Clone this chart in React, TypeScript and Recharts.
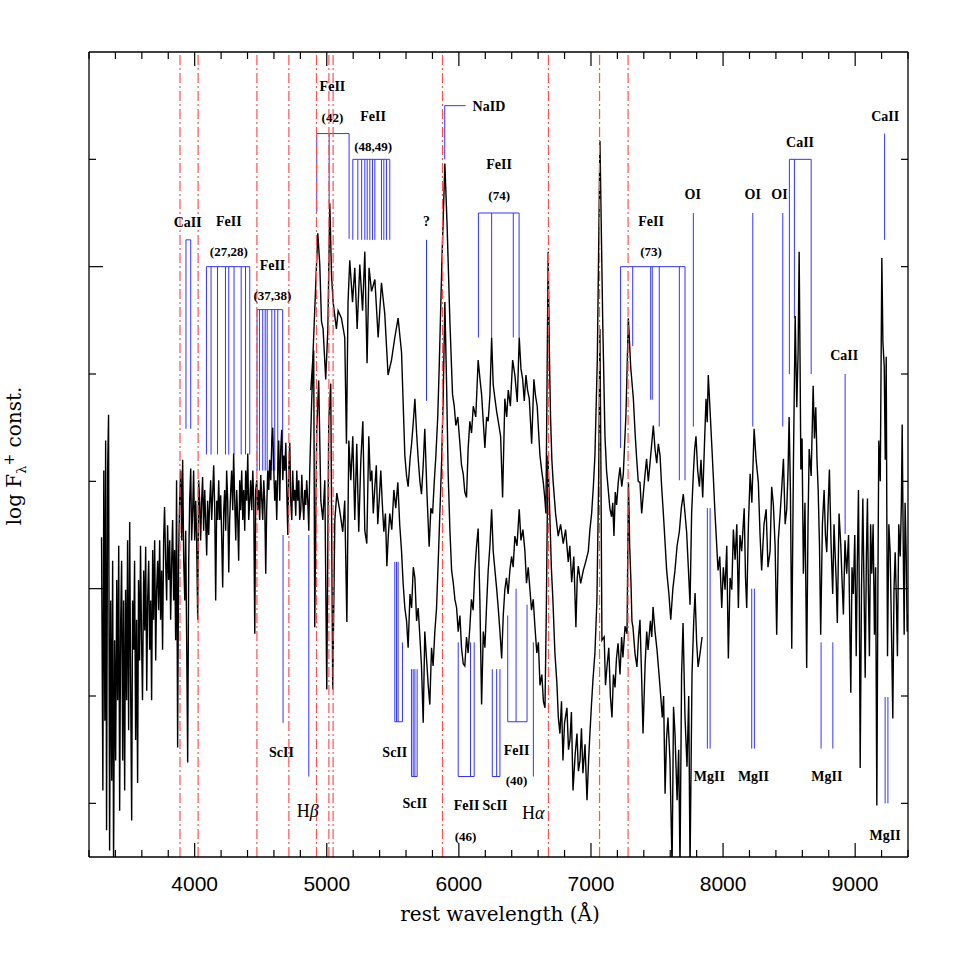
import { LineChart, Line, XAxis, YAxis, ReferenceLine, ReferenceDot } from 'recharts';

// wavelength (A), log flux + const (arbitrary units, one unit per y tick)
const specEarly: [number, number][] = [
  [3295, 2.48], [3305, 0.12], [3312, 3.10], [3320, 0.77], [3326, 3.38], [3333, -0.25], [3341, 3.10], [3348, 3.62],
  [3356, -0.44], [3364, 1.89], [3372, 0.21], [3379, 2.26], [3386, -0.6], [3394, 1.52], [3402, 0.40], [3410, 2.08],
  [3417, 0.96], [3425, 2.40], [3432, -0.07], [3440, 1.71], [3447, 2.26], [3455, 0.40], [3462, 1.89], [3470, 0.12],
  [3477, 1.99], [3485, 0.96], [3492, 2.45], [3500, 0.68], [3508, 2.62], [3515, 1.15], [3523, -0.16], [3530, 1.89],
  [3538, 1.43], [3545, 2.26], [3553, 0.59], [3560, 1.71], [3568, 0.19], [3575, 2.08], [3583, 1.33], [3590, 2.40],
  [3598, 1.52], [3605, 0.96], [3614, 2.17], [3622, 1.61], [3629, 2.39], [3637, 1.05], [3644, 1.89], [3652, 2.26],
  [3659, 1.43], [3667, 1.89], [3674, 0.96], [3682, 2.36], [3689, 1.71], [3697, 2.45], [3705, 1.33], [3712, 1.99],
  [3720, 2.26], [3727, 1.80], [3735, 2.45], [3742, 1.71], [3750, 2.17], [3757, 1.43], [3765, 2.45], [3772, 2.76],
  [3780, 2.26], [3788, 1.89], [3795, 2.59], [3803, 2.08], [3811, 2.45], [3818, 1.71], [3826, 2.26], [3833, 2.64],
  [3841, 1.89], [3848, 2.36], [3856, 1.52], [3863, 3.01], [3871, 0.52], [3878, 2.26], [3886, 2.82], [3894, 3.10],
  [3902, 2.45], [3909, 3.20], [3917, 2.26], [3925, 1.89], [3932, 2.54], [3940, 1.43], [3947, 0.38], [3955, 2.26],
  [3962, 2.82], [3970, 3.12], [3977, 2.45], [3985, 2.73], [3992, 3.10], [4000, 2.45], [4008, 2.82], [4015, 2.45],
  [4023, 1.71], [4030, 3.01], [4038, 2.82], [4045, 2.45], [4053, 2.82], [4060, 3.04], [4068, 2.54], [4076, 2.92],
  [4083, 2.64], [4091, 2.31], [4098, 2.82], [4106, 2.50], [4113, 2.78], [4121, 3.01], [4129, 2.64], [4136, 2.87],
  [4144, 3.15], [4152, 2.73], [4159, 1.89], [4167, 2.82], [4174, 2.64], [4182, 3.01], [4189, 2.64], [4197, 2.87],
  [4205, 2.45], [4212, 2.01], [4220, 2.73], [4227, 2.92], [4235, 2.54], [4242, 3.10], [4250, 2.82], [4258, 2.15],
  [4265, 2.64], [4273, 2.92], [4280, 3.10], [4288, 2.73], [4295, 3.26], [4303, 2.82], [4311, 2.45], [4318, 2.92],
  [4326, 2.64], [4333, 2.26], [4341, 3.01], [4348, 2.73], [4356, 3.10], [4364, 2.64], [4371, 2.92], [4379, 2.54],
  [4386, 3.10], [4394, 2.82], [4402, 3.26], [4409, 2.64], [4417, 2.82], [4424, 3.01], [4432, 2.73], [4440, 3.10],
  [4447, 2.82], [4455, 1.58], [4462, 2.92], [4470, 3.01], [4477, 2.73], [4485, 2.92], [4492, 2.64], [4500, 3.06],
  [4508, 2.82], [4515, 2.64], [4523, 3.01], [4530, 2.82], [4538, 2.14], [4545, 2.73], [4553, 3.10], [4561, 2.92],
  [4568, 3.20], [4576, 3.01], [4584, 3.38], [4591, 3.50], [4599, 3.10], [4606, 2.82], [4614, 3.01], [4621, 2.64],
  [4629, 3.10], [4636, 3.38], [4644, 2.82], [4651, 3.29], [4659, 3.48], [4667, 3.01], [4674, 3.24], [4682, 3.10],
  [4690, 3.36], [4697, 2.92], [4705, 2.50], [4712, 3.10], [4720, 3.36], [4727, 2.82], [4735, 2.64], [4742, 3.10],
  [4750, 2.82], [4758, 2.92], [4765, 2.68], [4773, 3.10], [4780, 2.82], [4788, 3.01], [4795, 2.64], [4803, 2.73],
  [4811, 3.06], [4818, 2.82], [4826, 2.64], [4833, 2.92], [4841, 2.78], [4848, 3.01], [4856, 2.82], [4864, 2.54],
  [4871, 3.10], [4886, 3.76], [4901, 4.22], [4909, 1.64], [4924, 3.48], [4939, 3.94], [4955, 2.82], [4970, 2.64],
  [4985, 3.01], [5000, 1.06], [5015, 3.57], [5030, 3.91], [5045, 1.06], [5061, 2.64], [5076, 2.89], [5098, 2.73],
  [5121, 2.53], [5136, 2.82], [5152, 1.69], [5167, 3.38], [5182, 3.01], [5197, 3.42], [5212, 2.64], [5227, 3.35],
  [5242, 2.53], [5258, 3.20], [5273, 3.56], [5288, 2.54], [5303, 2.42], [5318, 3.42], [5330, 3.00], [5341, 3.10],
  [5352, 2.70], [5364, 2.95], [5375, 3.15], [5386, 2.60], [5398, 2.85], [5409, 3.10], [5420, 2.80], [5432, 2.53],
  [5444, 2.70], [5455, 2.21], [5466, 2.50], [5477, 2.70], [5492, 2.55], [5508, 2.92], [5522, 2.75], [5538, 2.99],
  [5552, 2.60], [5566, 2.35], [5578, 2.05], [5591, 1.82], [5604, 1.70], [5616, 1.45], [5630, 1.95], [5642, 1.82],
  [5655, 2.20], [5667, 2.10], [5680, 1.70], [5692, 1.82], [5705, 1.55], [5717, 1.28], [5730, 0.75], [5742, 1.60],
  [5755, 1.35], [5768, 1.10], [5780, 0.92], [5793, 1.45], [5805, 1.28], [5818, 1.60], [5831, 1.82], [5845, 2.30],
  [5856, 2.70], [5870, 3.20], [5881, 3.77], [5894, 4.67], [5907, 3.90], [5919, 3.07], [5932, 2.55], [5945, 2.17],
  [5958, 2.05], [5970, 1.90], [5983, 1.82], [5995, 1.60], [6008, 1.75], [6020, 1.45], [6033, 1.30], [6045, 1.28],
  [6058, 1.55], [6070, 1.40], [6083, 1.64], [6095, 1.90], [6108, 1.80], [6121, 2.17], [6134, 2.40], [6146, 2.56],
  [6159, 1.90], [6172, 0.92], [6185, 1.60], [6197, 1.45], [6210, 1.85], [6222, 2.17], [6235, 2.40], [6248, 2.74],
  [6260, 2.35], [6273, 2.17], [6286, 2.00], [6298, 1.82], [6311, 1.60], [6324, 1.35], [6336, 1.75], [6348, 1.99],
  [6360, 2.10], [6373, 1.95], [6386, 2.17], [6399, 2.30], [6411, 2.20], [6424, 2.49], [6440, 2.40], [6457, 2.74],
  [6470, 2.45], [6485, 2.55], [6500, 2.35], [6512, 2.05], [6525, 2.20], [6538, 1.99], [6550, 1.80], [6563, 1.90],
  [6576, 1.64], [6590, 1.40], [6602, 1.50], [6614, 1.10], [6628, 1.20], [6640, 0.95], [6652, 0.89], [6662, 1.80],
  [6674, 3.24], [6689, 2.67], [6700, 2.20], [6712, 1.89], [6727, 1.40], [6742, 1.12], [6753, 0.80], [6765, 0.65],
  [6777, 0.95], [6788, 0.40], [6800, 0.75], [6818, 0.89], [6830, 0.50], [6841, 0.59], [6852, 0.85], [6864, 0.12],
  [6880, 0.45], [6894, 0.65], [6905, 0.30], [6917, 0.40], [6928, 0.70], [6939, 0.28], [6955, 0.55], [6970, 0.03],
  [6982, 0.40], [6992, 0.65], [7003, 0.90], [7015, 1.15], [7030, 1.40], [7045, 1.89], [7058, 3.00], [7068, 4.42],
  [7076, 3.00], [7083, 1.52], [7100, 1.55], [7110, 1.10], [7121, 1.27], [7135, 1.45], [7147, 1.00], [7159, 0.80],
  [7170, 1.20], [7182, 1.08], [7193, 1.35], [7205, 1.49], [7220, 1.20], [7232, 1.55], [7242, 1.36], [7258, 1.65],
  [7273, 1.58], [7284, 2.99], [7293, 2.40], [7303, 2.05], [7310, 1.70], [7318, 1.64], [7333, 1.40], [7348, 1.27],
  [7360, 1.55], [7371, 1.71], [7383, 1.20], [7394, 0.65], [7410, 1.30], [7422, 1.60], [7432, 1.43], [7450, 1.70],
  [7460, 1.55], [7470, 1.83], [7485, 1.60], [7500, 1.43], [7512, 1.25], [7523, 1.08], [7540, 0.80], [7550, 1.00],
  [7561, 0.09], [7572, 0.60], [7583, 0.80], [7598, 0.40], [7614, -0.6], [7625, 0.90], [7636, 0.65], [7652, 0.03],
  [7664, 0.50], [7674, -0.6], [7686, 1.20], [7697, 1.68], [7712, 0.80], [7727, 0.34], [7740, 1.00], [7750, -0.6],
  [7765, 1.21], [7778, 1.70], [7788, 1.96], [7800, 1.50], [7811, 1.27], [7826, 1.40], [7841, 1.55],
];

const specLate: [number, number][] = [
  [4879, 3.85], [4894, 4.13], [4917, 4.85], [4932, 5.31], [4947, 5.02], [4960, 4.49], [4972, 4.42], [4992, 3.95],
  [5008, 4.41], [5023, 5.59], [5036, 4.92], [5048, 4.67], [5073, 4.42], [5086, 4.59], [5111, 4.52], [5136, 4.34],
  [5149, 3.35], [5161, 4.67], [5174, 5.06], [5195, 4.67], [5212, 4.99], [5230, 4.42], [5250, 5.02], [5271, 4.59],
  [5288, 5.14], [5305, 4.10], [5320, 4.99], [5339, 4.77], [5364, 4.88], [5389, 4.34], [5414, 4.85], [5439, 4.56],
  [5464, 3.99], [5490, 4.13], [5515, 4.34], [5540, 4.52], [5566, 4.20], [5591, 3.24], [5604, 3.05], [5616, 2.95],
  [5630, 3.20], [5642, 3.35], [5655, 3.55], [5667, 3.77], [5680, 3.45], [5692, 3.21], [5705, 3.00], [5717, 2.88],
  [5730, 3.15], [5742, 3.49], [5758, 2.90], [5775, 2.39], [5788, 2.75], [5801, 2.70], [5814, 3.00], [5826, 3.24],
  [5840, 3.60], [5851, 4.06], [5871, 5.02], [5894, 5.96], [5911, 5.38], [5932, 4.49], [5952, 3.81], [5965, 3.70],
  [5977, 3.52], [5992, 3.60], [6008, 3.35], [6020, 3.15], [6033, 3.07], [6045, 2.90], [6058, 2.85], [6070, 3.30],
  [6083, 3.56], [6096, 3.45], [6109, 3.70], [6128, 3.60], [6146, 4.13], [6160, 3.95], [6172, 3.81], [6185, 3.55],
  [6197, 3.31], [6210, 3.60], [6222, 3.56], [6235, 3.80], [6248, 4.34], [6260, 3.90], [6273, 3.77], [6286, 3.65],
  [6298, 3.56], [6316, 3.42], [6331, 2.85], [6348, 3.77], [6362, 3.60], [6374, 3.85], [6390, 3.70], [6407, 4.13],
  [6424, 3.99], [6442, 3.74], [6457, 4.34], [6470, 4.05], [6483, 3.95], [6495, 3.75], [6508, 3.99], [6520, 3.85],
  [6533, 3.77], [6551, 3.35], [6568, 3.95], [6580, 3.80], [6593, 3.70], [6604, 3.45], [6614, 3.24], [6627, 3.10],
  [6639, 2.99], [6650, 2.85], [6659, 2.70], [6668, 4.00], [6676, 5.14], [6685, 4.20], [6694, 3.60], [6704, 3.20],
  [6714, 2.99], [6732, 2.70], [6752, 2.49], [6770, 2.60], [6790, 2.42], [6808, 2.55], [6828, 2.25], [6840, 2.40],
  [6854, 2.06], [6870, 2.30], [6886, 1.64], [6896, 2.10], [6904, 2.21], [6922, 2.05], [6942, 2.17], [6960, 2.25],
  [6980, 2.35], [6992, 2.55], [7005, 2.70], [7018, 2.95], [7030, 3.24], [7048, 4.13], [7068, 6.17], [7089, 4.49],
  [7106, 3.42], [7118, 3.10], [7131, 2.92], [7143, 2.75], [7156, 2.67], [7165, 2.80], [7174, 2.49], [7184, 2.90],
  [7194, 2.78], [7207, 3.00], [7220, 3.13], [7233, 2.95], [7245, 3.07], [7265, 3.63], [7283, 4.52], [7301, 4.06],
  [7321, 3.77], [7334, 3.45], [7346, 3.21], [7358, 3.00], [7371, 2.99], [7384, 2.70], [7396, 2.88], [7408, 3.05],
  [7421, 3.21], [7434, 3.00], [7447, 3.17], [7460, 3.35], [7472, 3.52], [7485, 3.30], [7498, 3.17], [7510, 3.35],
  [7523, 3.24], [7535, 2.95], [7548, 2.70], [7560, 2.45], [7573, 2.17], [7590, 1.95], [7604, 1.71], [7620, 2.00],
  [7636, 2.17], [7652, 2.40], [7669, 2.53], [7684, 2.75], [7699, 2.88], [7712, 2.70], [7724, 2.53], [7737, 2.20],
  [7750, 1.85], [7762, 2.70], [7775, 3.07], [7785, 3.30], [7795, 3.42], [7808, 3.10], [7821, 2.95], [7833, 3.20],
  [7846, 2.85], [7858, 3.30], [7871, 3.77], [7880, 3.55], [7888, 3.99], [7900, 3.70], [7914, 3.35], [7926, 3.05],
  [7939, 2.70], [7950, 2.45], [7962, 2.17], [7975, 2.30], [7990, 1.82], [8002, 2.20], [8015, 1.99], [8028, 2.40],
  [8040, 1.35], [8053, 2.10], [8066, 1.99], [8078, 2.55], [8091, 2.27], [8104, 2.60], [8116, 1.82], [8128, 2.50],
  [8141, 2.35], [8160, 2.75], [8170, 2.10], [8179, 1.82], [8192, 2.60], [8205, 3.07], [8218, 2.80], [8235, 3.49],
  [8250, 3.20], [8267, 2.99], [8280, 2.50], [8292, 2.17], [8310, 2.60], [8326, 2.74], [8340, 2.20], [8356, 2.35],
  [8368, 2.95], [8381, 2.78], [8394, 2.40], [8406, 1.57], [8418, 2.45], [8432, 2.70], [8445, 2.95], [8457, 3.21],
  [8470, 2.60], [8482, 2.74], [8492, 3.10], [8500, 3.60], [8510, 2.90], [8520, 1.44], [8533, 3.20], [8546, 4.54],
  [8558, 3.69], [8568, 4.20], [8576, 5.14], [8583, 4.10], [8589, 3.11], [8598, 3.40], [8608, 2.14], [8620, 2.80],
  [8633, 1.26], [8643, 2.60], [8652, 3.30], [8667, 3.05], [8682, 3.89], [8692, 3.40], [8702, 3.69], [8711, 3.20],
  [8720, 2.92], [8730, 2.40], [8739, 1.57], [8752, 2.60], [8765, 2.92], [8775, 2.50], [8785, 2.34], [8795, 2.75],
  [8805, 3.11], [8818, 2.40], [8830, 1.95], [8840, 2.60], [8848, 2.34], [8857, 2.05], [8865, 1.68], [8878, 2.70],
  [8891, 2.41], [8900, 2.10], [8911, 1.76], [8923, 2.45], [8936, 2.14], [8950, 2.50], [8960, 1.60], [8967, 1.03],
  [8976, 2.20], [8986, 1.95], [8997, 2.50], [9008, 1.37], [9016, 2.20], [9025, 2.92], [9032, 1.80], [9038, 0.33],
  [9048, 2.00], [9058, 2.84], [9066, 2.10], [9076, 1.17], [9085, 2.30], [9093, 2.84], [9100, 2.00], [9108, 1.37],
  [9117, 2.60], [9126, 2.14], [9136, 2.60], [9146, 1.57], [9155, 2.20], [9164, -0.02], [9172, 2.00], [9179, 3.38],
  [9190, 3.00], [9202, 5.08], [9210, 4.30], [9220, 4.07], [9228, 3.20], [9235, 4.16], [9240, 2.60], [9245, 1.37],
  [9255, 2.60], [9265, 2.34], [9275, 1.60], [9285, 0.79], [9294, 2.00], [9303, 2.34], [9312, 1.90], [9320, 1.37],
  [9330, 2.60], [9341, 2.30], [9350, 2.80], [9356, 3.53], [9364, 2.40], [9371, 1.57], [9378, 2.80], [9386, 2.34],
  [9394, 1.60], [9402, 1.76],
];

const xTicks = [3200, 3400, 3600, 3800, 4000, 4200, 4400, 4600, 4800, 5000, 5200, 5400, 5600, 5800, 6000, 6200,
  6400, 6600, 6800, 7000, 7200, 7400, 7600, 7800, 8000, 8200, 8400, 8600, 8800, 9000, 9200, 9400];
const yTicks = [0, 1, 2, 3, 4, 5, 6];

// He I positions (red dash-dot)
const heLines = [3889, 4026, 4471, 4713, 4922, 5016, 5048, 5876, 6678, 7065, 7281];

// line ids hanging from a bar: [wave, lower end]
const caHK: [number, number][] = [[3934, 3.49], [3970, 3.49]];
const fe2728: [number, number][] = [[4089, 3.25], [4124, 3.25], [4173, 3.25], [4233, 3.25], [4258, 3.25], [4298, 3.25], [4352, 3.25], [4385, 3.25], [4417, 3.25]];
const fe3738: [number, number][] = [[4472, 3.10], [4491, 3.10], [4515, 3.10], [4534, 3.10], [4549, 3.10], [4584, 3.10], [4606, 3.10], [4629, 3.10], [4666, 3.10]];
const fe42: [number, number][] = [[4924, 5.51], [5018, 5.59], [5169, 5.26]];
const fe4849: [number, number][] = [[5197, 5.25], [5235, 5.25], [5264, 5.25], [5288, 5.25], [5306, 5.25], [5326, 5.25], [5346, 5.25], [5364, 5.25], [5414, 5.25], [5432, 5.25], [5452, 5.25], [5477, 5.25]];
const unknownId: [number, number][] = [[5755, 3.75]];
const naD: [number, number][] = [[5893, 6.0]];
const fe74: [number, number][] = [[6148, 4.34], [6248, 4.34], [6412, 4.34], [6456, 4.34]];
const fe73: [number, number][] = [[7224, 3.31], [7316, 4.26], [7452, 3.76], [7464, 3.76], [7517, 3.51], [7669, 3.01], [7712, 3.01]];
const oi7774: [number, number][] = [[7775, 3.51]];
const oi8227: [number, number][] = [[8225, 3.51]];
const oi8446: [number, number][] = [[8452, 3.51]];
const caIR: [number, number][] = [[8502, 4.0], [8540, 4.52], [8667, 4.0]];
const ca9223: [number, number][] = [[9223, 5.25]];
const ca8927: [number, number][] = [[8924, 2.51]];

// line ids standing on a bar: [wave, upper start]
const sc4670: [number, number][] = [[4669, 2.50]];
const hBeta: [number, number][] = [[4864, 2.50]];
const sc5527: [number, number][] = [[5515, 2.25], [5528, 2.25], [5540, 2.25], [5573, 1.50]];
const sc5658: [number, number][] = [[5641, 1.25], [5654, 1.25], [5667, 1.25], [5684, 1.25]];
const fe46: [number, number][] = [[5995, 1.50], [6088, 1.50], [6116, 1.50]];
const sc6245: [number, number][] = [[6253, 1.25], [6286, 1.25], [6311, 1.25]];
const fe40: [number, number][] = [[6370, 1.75], [6433, 2.00], [6516, 1.85]];
const hAlpha: [number, number][] = [[6564, 1.50]];
const mg7890: [number, number][] = [[7881, 2.75], [7902, 2.75]];
const mg8225: [number, number][] = [[8217, 2.0], [8237, 2.0]];
const mg8780: [number, number][] = [[8742, 1.50], [8831, 1.50]];
const mg9230: [number, number][] = [[9227, 0.99], [9248, 0.99]];

type Lbl = [string, number, number];
type Group = { lines: [number, number][]; level: number; bar: boolean; barTo?: number; labels: Lbl[] };

const upperGroups: Group[] = [
  { lines: caHK, level: 5.25, bar: true, labels: [['CaII', 3947, 5.41]] },
  { lines: fe2728, level: 5.0, bar: true, labels: [['FeII', 4258, 5.42], ['(27,28)', 4258, 5.14]] },
  { lines: fe3738, level: 4.6, bar: true, labels: [['FeII', 4589, 5.01], ['(37,38)', 4589, 4.73]] },
  { lines: fe42, level: 6.24, bar: true, labels: [['FeII', 5043, 6.68], ['(42)', 5043, 6.39]] },
  { lines: fe4849, level: 6.0, bar: true, labels: [['FeII', 5351, 6.40], ['(48,49)', 5351, 6.12]] },
  { lines: unknownId, level: 5.25, bar: false, labels: [['?', 5755, 5.42]] },
  { lines: naD, level: 6.5, bar: true, barTo: 6052, labels: [] },
  { lines: fe74, level: 5.5, bar: true, labels: [['FeII', 6305, 5.95], ['(74)', 6305, 5.66]] },
  { lines: fe73, level: 5.0, bar: true, labels: [['FeII', 7455, 5.42], ['(73)', 7455, 5.14]] },
  { lines: oi7774, level: 5.5, bar: false, labels: [['OI', 7770, 5.67]] },
  { lines: oi8227, level: 5.5, bar: false, labels: [['OI', 8225, 5.67]] },
  { lines: oi8446, level: 5.5, bar: false, labels: [['OI', 8427, 5.67]] },
  { lines: caIR, level: 6.0, bar: true, labels: [['CaII', 8583, 6.16]] },
  { lines: ca9223, level: 6.24, bar: false, labels: [['CaII', 9227, 6.40]] },
  { lines: ca8927, level: 4.0, bar: false, labels: [['CaII', 8917, 4.17]] },
];

const lowerGroups: Group[] = [
  { lines: sc4670, level: 0.75, bar: false, labels: [['ScII', 4657, 0.47]] },
  { lines: hBeta, level: 0.25, bar: false, labels: [] },
  { lines: sc5527, level: 0.76, bar: true, labels: [['ScII', 5515, 0.47]] },
  { lines: sc5658, level: 0.25, bar: true, labels: [['ScII', 5667, 0.0]] },
  { lines: fe46, level: 0.25, bar: true, labels: [['FeII', 6058, -0.02], ['(46)', 6051, -0.31]] },
  { lines: sc6245, level: 0.25, bar: true, labels: [['ScII', 6273, -0.02]] },
  { lines: fe40, level: 0.76, bar: true, labels: [['FeII', 6437, 0.49], ['(40)', 6437, 0.21]] },
  { lines: hAlpha, level: 0.25, bar: false, labels: [] },
  { lines: mg7890, level: 0.51, bar: false, labels: [['MgII', 7896, 0.25]] },
  { lines: mg8225, level: 0.51, bar: false, labels: [['MgII', 8230, 0.25]] },
  { lines: mg8780, level: 0.51, bar: false, labels: [['MgII', 8786, 0.25]] },
  { lines: mg9230, level: 0.0, bar: false, labels: [['MgII', 9227, -0.30]] },
];

// Balmer labels: [roman part, greek letter, wave, level]
const balmerLabels: [string, string, number, number][] = [
  ['H', 'β', 4856, -0.07],
  ['H', 'α', 6563, -0.09],
];
const naLabel: Lbl = ['NaID', 6104, 6.49];

const BLUE = '#3434ff';
const RED = '#ff5252';
const ID_FONT = '"Liberation Serif", "Times New Roman", serif';

const toRows = (s: [number, number][]) => s.map(([w, f]) => ({ w, f }));

function BottomTick({ x, y, payload }: any) {
  const major = payload.value % 1000 === 0;
  return (
    <g>
      <line x1={x} x2={x} y1={y} y2={y - (major ? 14 : 7)} stroke="#000" strokeWidth={1.2} />
      {major && (
        <text x={x} y={y + 34} textAnchor="middle" fontFamily='"Liberation Sans", Arial, sans-serif' fontSize={21} fill="#000">
          {payload.value}
        </text>
      )}
    </g>
  );
}

function TopTick({ x, y, payload }: any) {
  const major = payload.value % 1000 === 0;
  return <line x1={x} x2={x} y1={y} y2={y + (major ? 14 : 7)} stroke="#000" strokeWidth={1.2} />;
}

function LeftTick({ x, y, payload }: any) {
  const major = payload.value === 2 || payload.value === 5;
  return <line x1={x} x2={x + (major ? 14 : 7)} y1={y} y2={y} stroke="#000" strokeWidth={1.2} />;
}

function RightTick({ x, y, payload }: any) {
  const major = payload.value === 2;
  return <line x1={x} x2={x - (major ? 14 : 7)} y1={y} y2={y} stroke="#000" strokeWidth={1.2} />;
}

const idText = (text: string) => (p: any) => {
  const paren = text.startsWith('(');
  return (
    <text x={p.cx} y={p.cy} textAnchor="middle" dominantBaseline="central" fontFamily={ID_FONT}
      fontWeight="bold" fontSize={paren ? 13 : 14} fill="#000">
      {text}
    </text>
  );
};

function renderGroup(g: Group, key: string) {
  const out: any[] = [];
  g.lines.forEach(([w, end], i) => {
    out.push(
      <ReferenceLine key={`${key}-l${i}`} segment={[{ x: w, y: g.level }, { x: w, y: end }]}
        stroke={BLUE} strokeWidth={1} ifOverflow="visible" />
    );
  });
  if (g.bar) {
    const ws = g.lines.map((l) => l[0]);
    const x1 = Math.min(...ws);
    const x2 = g.barTo ?? Math.max(...ws);
    out.push(
      <ReferenceLine key={`${key}-bar`} segment={[{ x: x1, y: g.level }, { x: x2, y: g.level }]}
        stroke={BLUE} strokeWidth={1} ifOverflow="visible" />
    );
  }
  g.labels.forEach(([t, w, v], i) => {
    out.push(<ReferenceDot key={`${key}-t${i}`} x={w} y={v} r={0} ifOverflow="visible" shape={idText(t)} />);
  });
  return out;
}

export default function App() {
  return (
    <div style={{ position: 'absolute', left: 0, top: 0, width: 959, height: 959, background: '#fff' }}>
      <LineChart width={959} height={959} margin={{ top: 42, right: 41, bottom: 72, left: 79 }}>
        <XAxis xAxisId={0} type="number" dataKey="w" domain={[3200, 9400]} allowDataOverflow ticks={xTicks}
          interval={0} height={30} tickSize={0} tickMargin={0} tick={<BottomTick />}
          axisLine={{ stroke: '#000', strokeWidth: 1.3 }} tickLine={false} />
        <XAxis xAxisId="top" orientation="top" type="number" dataKey="w" domain={[3200, 9400]} allowDataOverflow
          ticks={xTicks} interval={0} height={10} tickSize={0} tickMargin={0} tick={<TopTick />}
          axisLine={{ stroke: '#000', strokeWidth: 1.3 }} tickLine={false} />
        <YAxis yAxisId={0} type="number" domain={[-0.5, 7]} allowDataOverflow ticks={yTicks} interval={0}
          width={10} tickSize={0} tickMargin={0} tick={<LeftTick />}
          axisLine={{ stroke: '#000', strokeWidth: 1.3 }} tickLine={false} />
        <YAxis yAxisId="right" orientation="right" type="number" domain={[-0.5, 7]} allowDataOverflow ticks={yTicks}
          interval={0} width={10} tickSize={0} tickMargin={0} tick={<RightTick />}
          axisLine={{ stroke: '#000', strokeWidth: 1.3 }} tickLine={false} />

        {upperGroups.flatMap((g, i) => renderGroup(g, `u${i}`))}
        {lowerGroups.flatMap((g, i) => renderGroup(g, `d${i}`))}

        <ReferenceDot x={naLabel[1]} y={naLabel[2]} r={0} ifOverflow="visible"
          shape={(p: any) => (
            <text x={p.cx} y={p.cy} dominantBaseline="central" fontFamily={ID_FONT} fontWeight="bold" fontSize={14} fill="#000">
              {naLabel[0]}
            </text>
          )} />
        {balmerLabels.map(([h, g, w, v]) => (
          <ReferenceDot key={g} x={w} y={v} r={0} ifOverflow="visible"
            shape={(p: any) => (
              <text x={p.cx} y={p.cy} textAnchor="middle" dominantBaseline="central" fontFamily={ID_FONT} fontSize={18} fill="#000">
                {h}
                <tspan fontStyle="italic">{g}</tspan>
              </text>
            )} />
        ))}

        <Line data={toRows(specEarly)} dataKey="f" type="linear" stroke="#000" strokeWidth={1.4} dot={false}
          isAnimationActive={false} />
        <Line data={toRows(specLate)} dataKey="f" type="linear" stroke="#000" strokeWidth={1.4} dot={false}
          isAnimationActive={false} />

        {heLines.map((w) => (
          <ReferenceLine key={w} x={w} stroke={RED} strokeWidth={1.2} strokeDasharray="10 3 2 3" />
        ))}
      </LineChart>
      <svg width={959} height={959} style={{ position: 'absolute', left: 0, top: 0, pointerEvents: 'none' }}>
        <text x={500} y={921} textAnchor="middle" fontFamily='"DejaVu Serif", serif' fontSize={20} fill="#000">
          rest wavelength (Å)
        </text>
        <text transform="translate(21,456) rotate(-90)" textAnchor="middle" fontFamily='"DejaVu Serif", serif' fontSize={20} fill="#000">
          log F<tspan fontSize={13} dy={5}>λ</tspan><tspan fontSize={14} dy={-12}>+</tspan><tspan dy={7}> const.</tspan>
        </text>
      </svg>
    </div>
  );
}
